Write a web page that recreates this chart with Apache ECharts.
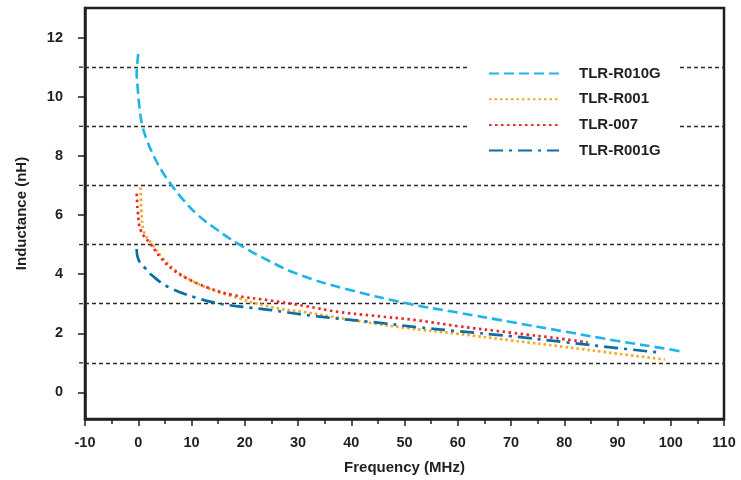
<!DOCTYPE html>
<html>
<head>
<meta charset="utf-8">
<script src="https://cdn.jsdelivr.net/npm/echarts@6/dist/echarts.min.js"></script>
<style>html,body{margin:0;padding:0;background:#fff;}#c{width:741px;height:480px;}</style>
</head>
<body>
<div id="c"></div>
<script>
// Data
const seriesNames = ['TLR-R010G', 'TLR-R001', 'TLR-007', 'TLR-R001G'];

const freqR010G = [0, -0.2, -0.3, -0.15, 0.25, 0.8, 1.7, 2.9, 4.4, 6.3, 8.5, 11.2, 14.8, 19, 24, 30, 39, 50.8, 60, 70, 80, 90, 100, 102];
const indR010G  = [11.45, 11.1, 10.8, 10.4, 9.6, 9, 8.5, 8, 7.5, 7, 6.5, 6, 5.5, 5, 4.5, 4, 3.5, 3, 2.7, 2.38, 2.06, 1.74, 1.45, 1.38];

const freqR001 = [0.4, 0.5, 0.6, 1.0, 2.6, 4.5, 6.7, 9.5, 13.2, 17.6, 25.1, 31.4, 37.7, 43.9, 50.2, 60, 70, 80, 90, 98.9];
const indR001  = [6.93, 6.5, 6.14, 5.47, 5.02, 4.56, 4.17, 3.83, 3.52, 3.25, 2.88, 2.71, 2.52, 2.34, 2.18, 1.98, 1.76, 1.54, 1.31, 1.11];

const freq007 = [-0.3, -0.2, -0.1, 0.5, 2.3, 4.2, 6.4, 9.2, 13, 17.6, 25.1, 31.4, 37.7, 43.9, 52.7, 60, 70, 80, 84.4];
const ind007  = [6.72, 6.4, 6.14, 5.47, 5.02, 4.56, 4.17, 3.85, 3.55, 3.3, 3.1, 2.92, 2.72, 2.6, 2.43, 2.24, 2.02, 1.8, 1.69];

const freqR001G = [-0.3, -0.15, 0.3, 1.3, 2.5, 5.6, 10.7, 15.7, 21.3, 25.1, 31.4, 37.7, 43.9, 52.7, 60, 70, 80, 90, 97.7];
const indR001G  = [4.85, 4.6, 4.4, 4.2, 3.97, 3.57, 3.21, 2.99, 2.86, 2.78, 2.62, 2.49, 2.38, 2.2, 2.07, 1.9, 1.7, 1.5, 1.35];

const yTickValues = [0, 2, 4, 6, 8, 10, 12];
const gridLineValues = [1, 3, 5, 7, 9, 11];

function pairs(xs, ys) { return xs.map((x, i) => [x, ys[i]]); }

const FONT = 'Liberation Sans, Arial, Helvetica, sans-serif';
const INK = '#231F20';
const GRIDLINE = { color: '#2b2b2b', type: [4, 3], width: 1.3 };

const chart = echarts.init(document.getElementById('c'), null, { renderer: 'canvas' });

const commonLine = { type: 'line', symbol: 'none', showSymbol: false, smooth: 0.45, z: 3 };

chart.setOption({
  backgroundColor: '#fff',
  animation: false,
  grid: { left: 85, width: 639, top: 8, height: 411, show: true, borderColor: INK, borderWidth: 2.5, backgroundColor: 'transparent' },
  legend: {
    data: seriesNames,
    orient: 'vertical',
    left: 470,
    top: 60,
    padding: [6, 18, 6, 18],
    itemWidth: 70,
    itemHeight: 14,
    itemGap: 10.7,
    backgroundColor: '#fff',
    z: 10,
    itemStyle: { opacity: 0 },
    textStyle: { fontFamily: FONT, fontWeight: 'bold', fontSize: 15, color: INK, padding: [0, 0, 0, 15] }
  },
  xAxis: {
    type: 'value',
    min: -10, max: 110, interval: 10,
    name: 'Frequency (MHz)',
    nameLocation: 'middle',
    nameGap: 41,
    nameTextStyle: { fontFamily: FONT, fontWeight: 'bold', fontSize: 15, color: INK },
    axisLine: { show: true, onZero: false, lineStyle: { color: INK, width: 2.5 } },
    axisTick: { show: true, length: 7, lineStyle: { color: INK, width: 1.5 } },
    minorTick: { show: true, splitNumber: 2, length: 5, lineStyle: { color: INK, width: 1.5 } },
    axisLabel: { fontFamily: FONT, fontWeight: 'bold', fontSize: 14.5, color: INK, margin: 16 },
    splitLine: { show: false }
  },
  yAxis: {
    type: 'value',
    min: -0.9, max: 13,
    name: 'Inductance (nH)',
    nameLocation: 'middle',
    nameGap: 56,
    nameTextStyle: { fontFamily: FONT, fontWeight: 'bold', fontSize: 15, color: INK },
    axisLine: { show: true, onZero: false, lineStyle: { color: INK, width: 2.5 } },
    axisTick: { show: true, length: 7, customValues: yTickValues, lineStyle: { color: INK, width: 1.5 } },
    axisLabel: { fontFamily: FONT, fontWeight: 'bold', fontSize: 14.5, color: INK, margin: 22, customValues: yTickValues },
    splitLine: { show: false }
  },
  series: [
    Object.assign({}, commonLine, {
      name: 'TLR-R010G', data: pairs(freqR010G, indR010G), color: '#1CB4EA',
      lineStyle: { color: '#1CB4EA', width: 2.6, type: [10, 5] },
      markLine: {
        silent: true, symbol: 'none', animation: false, z: 1,
        label: { show: false },
        lineStyle: GRIDLINE,
        data: gridLineValues.map(v => [{ coord: [-10, v] }, { coord: [110, v] }])
      }
    }),
    Object.assign({}, commonLine, {
      name: 'TLR-R001', data: pairs(freqR001, indR001), color: '#F6A91E',
      lineStyle: { color: '#F6A91E', width: 2.7, type: [2.5, 3] }
    }),
    Object.assign({}, commonLine, {
      name: 'TLR-007', data: pairs(freq007, ind007), color: '#E8262E',
      lineStyle: { color: '#E8262E', width: 2.7, type: [2.5, 3.5] }
    }),
    Object.assign({}, commonLine, {
      name: 'TLR-R001G', data: pairs(freqR001G, indR001G), color: '#0B6EA6',
      lineStyle: { color: '#0B6EA6', width: 2.7, type: [14, 6, 3, 6] }
    })
  ]
});

// Short extensions of the dashed reference lines to the left of the y axis,
// positioned through the chart's own scale.
const stubs = gridLineValues.map(v => {
  const p = chart.convertToPixel({ gridIndex: 0 }, [-10, v]);
  return { type: 'line', shape: { x1: p[0] - 6, y1: p[1], x2: p[0], y2: p[1] }, style: { stroke: GRIDLINE.color, lineWidth: GRIDLINE.width, lineDash: GRIDLINE.type }, silent: true, z: 5 };
});
chart.setOption({ graphic: stubs });
</script>
</body>
</html>
